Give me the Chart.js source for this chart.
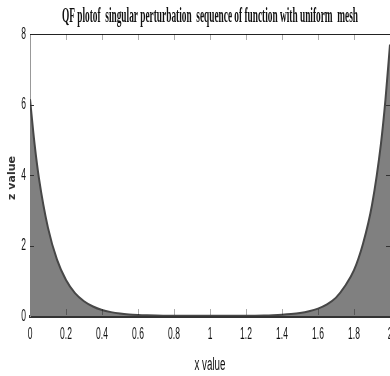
<!DOCTYPE html>
<html><head><meta charset="utf-8">
<script src="https://cdn.jsdelivr.net/npm/chart.js@4/dist/chart.umd.min.js"></script>
<style>
html,body{margin:0;padding:0;overflow:hidden;background:#fff;width:390px;height:376px}
#wrap{position:relative;width:410px;height:376px}
</style></head>
<body><div id="wrap"><canvas id="c"></canvas></div>
<script>
const titleText = 'QF plotof  singular perturbation  sequence of function with uniform  mesh';
const xTitle = 'x value';
const yTitle = 'z value';
const xTickLabels = ['0','0.2','0.4','0.6','0.8','1','1.2','1.4','1.6','1.8','2'];
const yTickLabels = ['0','2','4','6','8'];
const xValues = [0,0.025,0.05,0.1,0.15,0.2,0.25,0.3,0.35,0.4,0.45,0.5,0.55,0.6,0.65,0.7,0.75,0.8,0.85,0.9,0.95,1.0,
  1.05,1.1,1.15,1.2,1.25,1.3,1.35,1.4,1.45,1.5,1.55,1.6,1.65,1.7,1.75,1.8,1.85,1.9,1.95,1.975,2.0];
const zValues = [6.15,4.9,3.9,2.5,1.6,1.02,0.65,0.42,0.27,0.17,0.11,0.07,0.045,0.03,0.02,0.013,0.01,0.008,0.006,0.005,0.005,0.005,
  0.005,0.005,0.006,0.008,0.01,0.014,0.022,0.035,0.055,0.085,0.135,0.21,0.33,0.52,0.85,1.3,2.05,3.15,4.9,6.15,7.7];

function squeezedText(ctx, text, font, x, y, sx, align){
  ctx.save();
  ctx.font = font;
  ctx.translate(x, y);
  ctx.scale(sx, 1);
  ctx.textAlign = align || 'center';
  ctx.textBaseline = 'middle';
  ctx.fillText(text, 0, 0);
  ctx.restore();
}

const decor = {
  id: 'decor',
  afterDatasetsDraw(chart){
    const ctx = chart.ctx, a = chart.chartArea;
    const xs = chart.scales.x, ys = chart.scales.y;
    ctx.save();
    ctx.strokeStyle = '#222'; ctx.lineWidth = 1;
    ctx.beginPath(); ctx.moveTo(a.left, a.top + 0.5); ctx.lineTo(a.right, a.top + 0.5); ctx.stroke();
    ctx.strokeStyle = 'rgba(0,0,0,0.32)';
    xs.ticks.forEach(t => {
      const p = Math.round(xs.getPixelForValue(t.value)) + 0.5;
      if (t.value === 0) return;
      ctx.beginPath(); ctx.moveTo(p, a.bottom - 1); ctx.lineTo(p, a.bottom - 7); ctx.stroke();
      ctx.beginPath(); ctx.moveTo(p, a.top); ctx.lineTo(p, a.top + 6); ctx.stroke();
    });
    ctx.strokeStyle = '#333';
    ys.ticks.forEach(t => {
      const p = Math.round(ys.getPixelForValue(t.value)) + 0.5;
      if (t.value === 0 || t.value === 8) return;
      ctx.beginPath(); ctx.moveTo(a.left, p); ctx.lineTo(a.left + 4, p); ctx.stroke();
      ctx.beginPath(); ctx.moveTo(a.right, p); ctx.lineTo(a.right - 4, p); ctx.stroke();
    });
    ctx.restore();
  },
  afterDraw(chart){
    const ctx = chart.ctx;
    const xs = chart.scales.x, ys = chart.scales.y;
    ctx.save();
    ctx.fillStyle = '#111';
    const tf = 'bold 21px "Liberation Serif"';
    ctx.font = tf;
    const tw = ctx.measureText(titleText).width;
    squeezedText(ctx, titleText, tf, 210, 17, 296 / tw);
    const lf = '17px "Liberation Sans"';
    xs.ticks.forEach((t, i) => {
      squeezedText(ctx, xTickLabels[i], lf, xs.getPixelForValue(t.value), 334, 0.5);
    });
    ys.ticks.forEach((t, i) => {
      squeezedText(ctx, yTickLabels[i], lf, 26, ys.getPixelForValue(t.value), 0.5, 'right');
    });
    const xf = '18px "Liberation Sans"';
    ctx.font = xf;
    const xw = ctx.measureText(xTitle).width;
    squeezedText(ctx, xTitle, xf, 210, 365, 31 / xw);
    ctx.save();
    ctx.translate(12, 178);
    ctx.rotate(-Math.PI / 2);
    ctx.font = 'bold 11px "DejaVu Sans"';
    ctx.textAlign = 'center'; ctx.textBaseline = 'middle';
    ctx.fillStyle = '#333';
    ctx.fillText(yTitle, 0, 0);
    ctx.restore();
    ctx.restore();
  }
};

new Chart(document.getElementById('c'), {
  type: 'line',
  data: {
    datasets: [{
      data: xValues.map((x, i) => ({x: x, y: zValues[i]})),
      borderColor: '#474747',
      borderWidth: 2,
      backgroundColor: '#808080',
      fill: 'origin',
      pointRadius: 0,
      cubicInterpolationMode: 'monotone'
    }]
  },
  options: {
    responsive: true,
    maintainAspectRatio: false,
    animation: false,
    layout: { padding: { top: 34, right: 20, left: 0, bottom: 0 } },
    plugins: { legend: { display: false }, title: { display: false }, tooltip: { enabled: false } },
    scales: {
      x: {
        type: 'linear', min: 0, max: 2,
        afterBuildTicks: s => { s.ticks = xTickLabels.map(v => ({ value: parseFloat(v) })); },
        afterFit: s => { s.height = 60; },
        ticks: { display: false },
        grid: { display: false, drawTicks: false },
        border: { display: true, color: '#333', width: 3 }
      },
      y: {
        type: 'linear', min: 0, max: 8,
        afterBuildTicks: s => { s.ticks = yTickLabels.map(v => ({ value: parseFloat(v) })); },
        afterFit: s => { s.width = 30; },
        ticks: { display: false },
        grid: { display: false, drawTicks: false },
        border: { display: true, color: '#999', width: 1 }
      }
    }
  },
  plugins: [decor]
});
</script>
</body></html>
